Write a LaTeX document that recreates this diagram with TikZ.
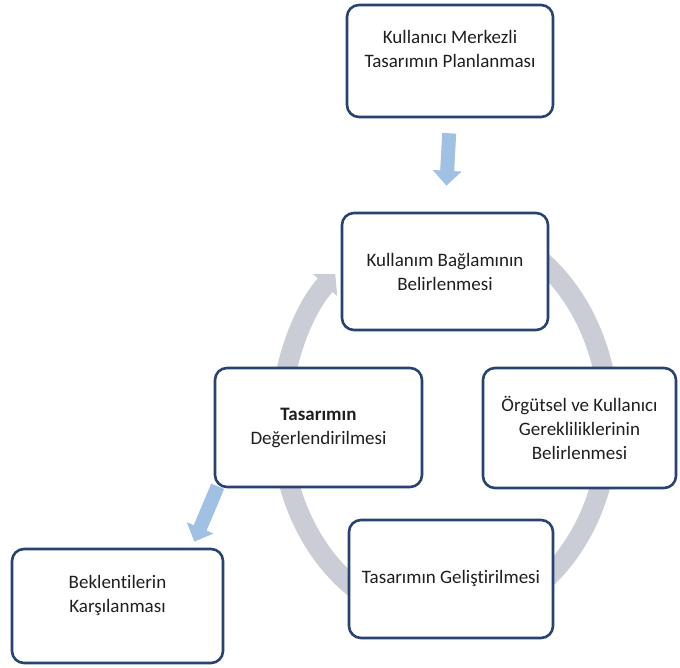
\documentclass[tikz,border=0pt]{standalone}
\usepackage{fontspec}
\setmainfont{Carlito}[Ligatures={NoCommon,NoContextual,NoRare},RawFeature={-liga;-clig;-calt}]
\usetikzlibrary{arrows.meta,backgrounds}
\definecolor{cerceve}{RGB}{40,66,114}
\definecolor{acikmavi}{RGB}{160,192,228}
\definecolor{halkagri}{RGB}{202,204,214}

\begin{document}
\begin{tikzpicture}[x=1pt,y=1pt,
  kutu/.style={draw=cerceve,line width=2.6pt,rounded corners=12pt,fill=white,
    align=center,font=\fontsize{19}{24}\selectfont,text=black!88},
  okmavi/.style={draw=acikmavi,line width=14pt,-{Triangle[width=28pt,length=15pt]}},
  halka/.style={draw=halkagri,line width=20pt,-{Triangle[width=32pt,length=15pt]}}]
 \useasboundingbox (0,0) rectangle (680,668); % 外枠
 \coordinate (HM) at (445,246); % 円の中心

 \node[kutu,minimum width=206pt,minimum height=112pt] (plan) at (450,607)
   {Kullanıcı Merkezli\\Tasarımın Planlanması\\~}; % 計画
 \node[kutu,minimum width=206pt,minimum height=117pt] (baglam) at (445,396.5)
   {Kullanım Bağlamının\\Belirlenmesi}; % 上
 \node[kutu,minimum width=193pt,minimum height=120pt] (orgut) at (579.5,240)
   {Örgütsel ve Kullanıcı\\Gerekliliklerinin\\Belirlenmesi}; % 右
 \node[kutu,minimum width=204pt,minimum height=118pt] (gelistirme) at (451,89)
   {Tasarımın Geliştirilmesi}; % 下
 \node[kutu,minimum width=207pt,minimum height=119pt] (degerlendirme) at (318.5,240.5)
   {\textbf{Tasarımın}\\Değerlendirilmesi}; % 左
 \node[kutu,minimum width=211pt,minimum height=114pt] (beklenti) at (117.5,62)
   {Beklentilerin\\Karşılanması\\~}; % 結果

 \begin{scope}[on background layer]
  \draw[halka] (HM) ++(80:164 and 199) arc[start angle=80, end angle=-228, x radius=164, y radius=199]; % 円弧
  \draw[okmavi,shorten <=15pt,shorten >=26pt] (plan.south) -- (baglam.north); % 矢印
  \draw[okmavi] ([xshift=4pt,yshift=2pt]degerlendirme.south west)
    -- ([xshift=-30pt,yshift=6pt]beklenti.north east); % 矢印
 \end{scope}
\end{tikzpicture}
\end{document}
